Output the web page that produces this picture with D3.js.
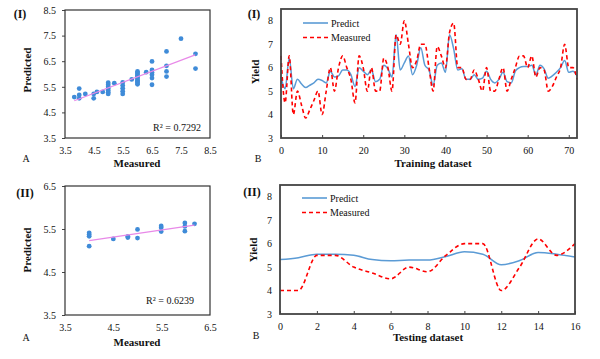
<!DOCTYPE html>
<html><head><meta charset="utf-8">
<script src="https://cdn.jsdelivr.net/npm/d3@7"></script>
<style>
body{margin:0;background:#fff;}
svg text{font-family:"Liberation Serif","Times New Roman",serif;fill:#111;}
</style></head>
<body><svg id="c" width="600" height="359"></svg>
<script>
// ---------- DATA ----------
// Scatter (I): measured vs predicted, training set
const scatterIx = [3.82,3.99,3.99,3.99,4.2,4.49,4.49,4.6,4.8,
  4.99,4.99,4.99,4.99,4.99,4.99,4.99,5.2,5.49,5.49,5.49,5.49,5.49,5.8,
  6.0,6.0,6.0,6.0,6.0,6.0,6.0,6.0,6.0,6.0,6.0,6.3,
  6.5,6.5,6.5,6.5,6.5,6.5,7.0,7.0,7.0,7.0,7.5,8.0,8.0];
const scatterIy = [5.1,5.43,5.18,5.05,5.22,5.22,5.05,5.3,5.3,
  5.66,5.58,5.5,5.43,5.36,5.29,5.22,5.64,5.67,5.55,5.44,5.33,5.22,5.79,
  6.1,6.05,6.0,5.95,5.9,5.85,5.8,5.75,5.7,5.65,5.6,6.07,
  6.49,6.16,6.06,5.97,5.84,5.58,6.88,6.32,6.1,5.9,7.38,6.79,6.21];
const fitI = [0.43, 3.31];          // slope, intercept
const fitIRange = [3.82, 7.99];
const r2I = "R\u00B2 = 0.7292";

// Scatter (II): testing set
const scatterIIx = [4.0,4.0,4.0,4.0,4.5,4.8,4.8,5.0,5.0,5.49,5.49,5.49,5.98,5.98,5.98,6.18];
const scatterIIy = [5.41,5.37,5.33,5.1,5.27,5.33,5.3,5.49,5.29,5.57,5.53,5.44,5.64,5.56,5.45,5.62];
const fitII = [0.165, 4.57];
const fitIIRange = [4.0, 6.18];
const r2II = "R\u00B2 = 0.6239";

// Training dataset series (index 0..72)
const trainPredict = [5.6,5.1,6.4,5.1,5.5,5.3,5.15,5.25,5.35,5.5,5.45,5.35,5.85,5.6,5.65,5.9,5.9,5.7,5.2,6.0,
  5.85,5.7,5.9,5.4,5.5,6.1,5.95,5.6,7.4,5.9,6.2,6.5,5.7,6.1,6.85,6.1,5.9,5.25,6.1,6.2,
  5.8,7.4,6.8,5.9,5.95,5.5,5.5,5.7,5.5,5.55,5.85,5.5,5.35,5.5,5.8,5.4,5.35,5.85,6.0,6.05,
  6.05,6.1,5.7,6.1,5.95,5.55,5.65,5.8,6.0,6.3,5.8,5.85,5.65];
const trainMeasured = [6.5,4.5,6.5,4.0,5.0,4.4,3.85,4.2,4.6,5.0,4.0,5.0,6.0,5.0,6.0,6.5,6.0,5.5,4.5,6.5,
  6.0,5.0,6.0,5.0,5.0,6.4,6.0,5.0,7.4,7.0,8.0,7.0,6.0,6.3,7.0,7.0,6.0,5.0,6.9,6.5,
  6.0,7.5,7.9,6.0,6.0,5.5,5.5,5.9,5.5,5.0,6.0,5.0,5.0,5.5,6.0,5.0,5.5,6.0,6.5,6.5,
  6.0,6.5,5.6,6.0,5.9,5.0,5.2,5.6,6.0,7.0,6.0,6.0,5.5];

// Testing dataset series (index 0..16)
const testPredict = [5.32,5.4,5.55,5.55,5.5,5.32,5.27,5.3,5.3,5.45,5.65,5.55,5.1,5.28,5.62,5.55,5.43];
const testMeasured = [4.0,4.0,5.5,5.5,5.0,4.75,4.5,5.0,4.8,5.5,6.0,6.0,4.0,5.0,6.2,5.5,6.0];

const scatterITicks = [3.5,4.5,5.5,6.5,7.5,8.5];
const scatterIITicks = [3.5,4.5,5.5,6.5];
const yieldTicks = [3,4,5,6,7,8];
const trainXTicks = [0,10,20,30,40,50,60,70];
const testXTicks = [0,2,4,6,8,10,12,14,16];
const legendNames = ["Predict","Measured"];

// ---------- STYLE ----------
const blue = "#5B9BD5", red = "#FF0000", dot = "#3F8BD8", fitCol = "#E889E8";
const svg = d3.select("#c");

function label(x,y,t,opt={}){
  const e = svg.append("text").attr("x",x).attr("y",y).text(t)
    .attr("font-size",opt.size||11).attr("text-anchor",opt.anchor||"middle")
    .attr("font-weight",opt.bold?"bold":"normal");
  if(opt.rot) e.attr("transform",`rotate(-90,${x},${y})`);
  return e;
}

function styleAxis(g){
  g.select(".domain").remove();
  g.selectAll("text").attr("font-size",10).attr("font-family","Liberation Serif, serif").attr("fill","#111");
  g.selectAll("line").attr("stroke","#444");
}

function scatter(box, xd, yd, ticks, xs, ys, fit, fitR, r2, r2pos){
  const x = d3.scaleLinear().domain(xd).range([box.l, box.r]);
  const y = d3.scaleLinear().domain(yd).range([box.b, box.t]);
  svg.append("g").attr("transform",`translate(0,${box.b})`)
    .call(d3.axisBottom(x).tickValues(ticks).tickFormat(d3.format(".1f")).tickSize(0).tickPadding(9)).call(styleAxis);
  svg.append("g").attr("transform",`translate(${box.l},0)`)
    .call(d3.axisLeft(y).tickValues(ticks).tickFormat(d3.format(".1f")).tickSize(3).tickPadding(6)).call(styleAxis);
  svg.append("rect").attr("x",box.l).attr("y",box.t).attr("width",box.r-box.l).attr("height",box.b-box.t)
    .attr("fill","none").attr("stroke","#333").attr("stroke-width",1.2);
  svg.append("g").selectAll("circle").data(xs.map((v,i)=>[v,ys[i]])).join("circle")
    .attr("cx",d=>x(d[0])).attr("cy",d=>y(d[1])).attr("r",2.4).attr("fill",dot);
  svg.append("line").attr("x1",x(fitR[0])).attr("y1",y(fit[0]*fitR[0]+fit[1]))
    .attr("x2",x(fitR[1])).attr("y2",y(fit[0]*fitR[1]+fit[1]))
    .attr("stroke",fitCol).attr("stroke-width",1.2);
  label(r2pos[0], r2pos[1], r2, {size:10, anchor:"middle"});
}

function lines(box, xd, yd, xt, pred, meas, leg){
  const x = d3.scaleLinear().domain(xd).range([box.l, box.r]);
  const y = d3.scaleLinear().domain(yd).range([box.b, box.t]);
  svg.append("g").attr("transform",`translate(0,${box.b})`)
    .call(d3.axisBottom(x).tickValues(xt).tickSize(-3).tickPadding(9)).call(styleAxis);
  svg.append("g").attr("transform",`translate(${box.l},0)`)
    .call(d3.axisLeft(y).tickValues(yieldTicks).tickFormat(d3.format("d")).tickSize(0).tickPadding(8)).call(styleAxis);
  const ln = d3.line().x((d,i)=>x(i)).y(d=>y(d)).curve(d3.curveMonotoneX);
  svg.append("path").datum(pred).attr("d",ln).attr("fill","none").attr("stroke",blue).attr("stroke-width",1.5);
  svg.append("path").datum(meas).attr("d",ln).attr("fill","none").attr("stroke",red).attr("stroke-width",1.6)
    .attr("stroke-dasharray","4,3");
  svg.append("rect").attr("x",box.l).attr("y",box.t).attr("width",box.r-box.l).attr("height",box.b-box.t)
    .attr("fill","none").attr("stroke","#444").attr("stroke-width",1.8);
  // legend
  const cols = [blue, red], dash = [null, "4,3"];
  legendNames.forEach((n,i)=>{
    const yy = leg[1] + i*14.5;
    svg.append("line").attr("x1",leg[0]).attr("x2",leg[0]+25).attr("y1",yy).attr("y2",yy)
      .attr("stroke",cols[i]).attr("stroke-width",1.6).attr("stroke-dasharray",dash[i]);
    label(leg[0]+28, yy+3.5, n, {size:10, anchor:"start"});
  });
}

// Panel I-A
scatter({l:65,r:210,t:10,b:138},[3.5,8.5],[3.5,8.5],scatterITicks,scatterIx,scatterIy,fitI,fitIRange,r2I,[177,131]);
label(20,18,"(I)",{size:12,bold:true});
label(26,162,"A",{size:10});
label(137,167,"Measured",{bold:true});
label(31,70,"Predicted",{bold:true,rot:true});

// Panel I-B
lines({l:281,r:577,t:9,b:138},[0,72],[3,8.5],trainXTicks,trainPredict,trainMeasured,[303,23]);
label(254,18,"(I)",{size:12,bold:true});
label(258,162,"B",{size:10});
label(433,167,"Training dataset",{bold:true});
label(259,72,"Yield",{bold:true,rot:true});

// Panel II-A
scatter({l:65,r:210,t:186,b:315},[3.5,6.5],[3.5,6.5],scatterIITicks,scatterIIx,scatterIIy,fitII,fitIIRange,r2II,[170,304]);
label(25,197,"(II)",{size:12,bold:true});
label(26,341,"A",{size:10});
label(137,346,"Measured",{bold:true});
label(31,250,"Predicted",{bold:true,rot:true});

// Panel II-B
lines({l:280,r:575,t:185,b:314},[0,16],[3,8.5],testXTicks,testPredict,testMeasured,[302,198]);
label(252,196,"(II)",{size:12,bold:true});
label(256,339,"B",{size:10});
label(428,341,"Testing dataset",{bold:true});
label(257,250,"Yield",{bold:true,rot:true});
</script></body></html>
